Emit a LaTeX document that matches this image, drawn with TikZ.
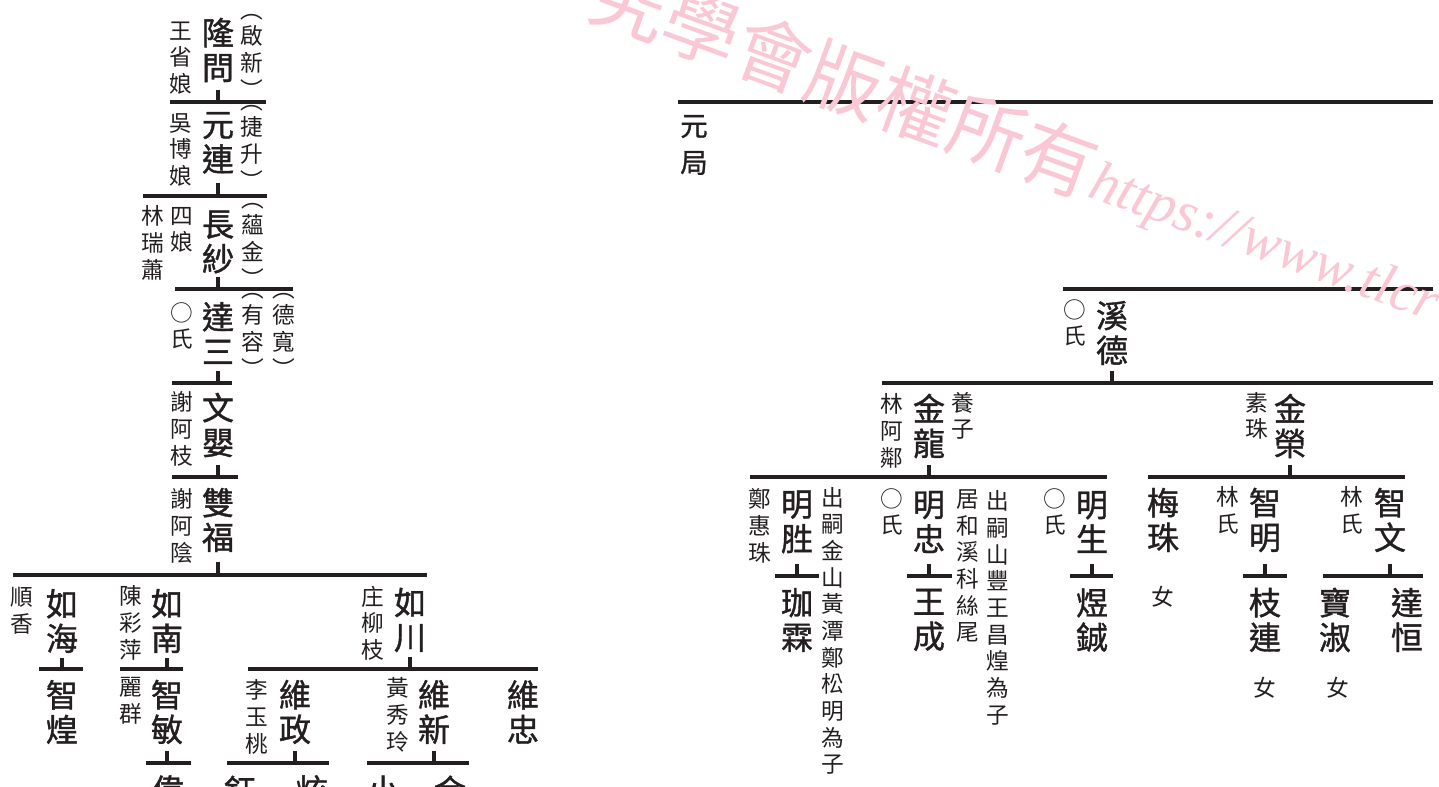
\documentclass[tikz,border=0pt]{standalone}
\usepackage{fontspec}
\setmainfont{Noto Sans CJK TC}
\newfontfamily\namefont{Noto Sans CJK TC}[FakeBold=1.2]
\newfontfamily\urlfont{Liberation Serif}
\definecolor{ink}{RGB}{35,31,32}
\definecolor{wm}{RGB}{250,200,212}
\begin{document}
\begin{tikzpicture}[x=0.75pt,y=-0.75pt,
  nm/.style={font=\namefont\fontsize{24}{26}\selectfont, align=center, inner sep=0pt, text=ink},
  sm/.style={font=\fontsize{17}{20}\selectfont, align=center, inner sep=0pt, text=ink},
  md/.style={font=\namefont\fontsize{20.5}{27.5}\selectfont, align=center, inner sep=0pt, text=ink},
  bar/.style={line width=3pt, draw=ink},
]
\useasboundingbox (0,0) rectangle (1439,787);
\clip (0,0) rectangle (1439,787);

% ---------------- left tree ----------------
\node[nm] (n1) at (218,50) {隆\\問};
\node[sm] (s1) at (181,58) {王\\省\\娘};
\node[sm] (c1) at (252,56) {︵\\啟\\新\\︶};
\coordinate (b1a) at (170,102); \coordinate (b1b) at (266,102);
\draw[bar] (b1a) -- (b1b);
\draw[bar] (n1) ++(0,40) -- (n1 |- b1a);

\node[nm] (n2) at (218,143) {元\\連};
\node[sm] (s2) at (181,150) {吳\\博\\娘};
\node[sm] (c2) at (252,147) {︵\\捷\\升\\︶};
\coordinate (b2a) at (143,196); \coordinate (b2b) at (267,196);
\draw[bar] (b2a) -- (b2b);
\draw[bar] (n2) ++(0,40) -- (n2 |- b2a);

\node[nm] (n3) at (218,242) {長\\紗};
\node[sm] (s3a) at (182,230) {四\\娘};
\node[sm] (s3b) at (153,243) {林\\瑞\\蕭};
\node[sm] (c3) at (253,245) {︵\\蘊\\金\\︶};
\coordinate (b3a) at (175,289); \coordinate (b3b) at (293,289);
\draw[bar] (b3a) -- (b3b);
\draw[bar] (n3) ++(0,35) -- (n3 |- b3a);

\node[nm] (n4) at (218,333) {達\\三};
\node[sm] (s4) at (182,326) {○\\氏};
\node[sm] (c4a) at (253,335) {︵\\有\\容\\︶};
\node[sm] (c4b) at (284,335) {︵\\德\\寬\\︶};
\coordinate (b4a) at (172,383); \coordinate (b4b) at (232,383);
\draw[bar] (b4a) -- (b4b);
\draw[bar] (n4) ++(0,38) -- (n4 |- b4a);

\node[nm] (n5) at (218,425) {文\\嬰};
\node[sm] (s5) at (182,429) {謝\\阿\\枝};
\coordinate (b5a) at (172,477); \coordinate (b5b) at (238,477);
\draw[bar] (b5a) -- (b5b);
\draw[bar] (n5) ++(0,40) -- (n5 |- b5a);

\node[nm] (n6) at (218,520) {雙\\福};
\node[sm] (s6) at (182,526) {謝\\阿\\陰};
\coordinate (b6a) at (13,575); \coordinate (b6b) at (427,575);
\draw[bar] (b6a) -- (b6b);
\draw[bar] (n6) ++(0,42) -- (n6 |- b6a);

\node[nm] (n7) at (62,621) {如\\海};
\node[sm] (s7) at (22,611) {順\\香};
\node[nm] (n8) at (167,621) {如\\南};
\node[sm] (s8) at (131,623) {陳\\彩\\萍};
\node[nm] (n9) at (410,620) {如\\川};
\node[sm] (s9) at (373,623) {庄\\柳\\枝};

\coordinate (b7a) at (39,669); \coordinate (b7b) at (83,669);
\draw[bar] (b7a) -- (b7b);
\draw[bar] (n7) ++(0,37) -- (n7 |- b7a);
\node[nm] (n10) at (62,712) {智\\煌};

\coordinate (b8a) at (120,669); \coordinate (b8b) at (183,669);
\draw[bar] (b8a) -- (b8b);
\draw[bar] (n8) ++(0,37) -- (n8 |- b8a);
\node[nm] (n11) at (167,712) {智\\敏};
\node[sm] (s11) at (131,701) {麗\\群};

\coordinate (b9a) at (248,669); \coordinate (b9b) at (538,669);
\draw[bar] (b9a) -- (b9b);
\draw[bar] (n9) ++(0,37) -- (n9 |- b9a);
\node[nm] (n12) at (295,712) {維\\政};
\node[sm] (s12) at (257,717) {李\\玉\\桃};
\node[nm] (n13) at (434,712) {維\\新};
\node[sm] (s13) at (398,715) {黃\\秀\\玲};
\node[nm] (n14) at (523,712) {維\\忠};

\coordinate (b10a) at (146,763); \coordinate (b10b) at (191,763);
\draw[bar] (b10a) -- (b10b);
\draw[bar] (n11) ++(0,39) -- (n11 |- b10a);
\node[nm] (n15) at (168,790) {偉};

\coordinate (b11a) at (227,763); \coordinate (b11b) at (329,763);
\draw[bar] (b11a) -- (b11b);
\draw[bar] (n12) ++(0,39) -- (n12 |- b11a);
\node[nm] (n16) at (240,790) {鈺};
\node[nm] (n17) at (312,790) {炫};

\coordinate (b12a) at (367,763); \coordinate (b12b) at (469,763);
\draw[bar] (b12a) -- (b12b);
\draw[bar] (n13) ++(0,39) -- (n13 |- b12a);
\node[nm] (n18) at (383,790) {小};
\node[nm] (n19) at (450,790) {金};

% ---------------- right tree ----------------
\coordinate (r0a) at (678,102); \coordinate (r0b) at (1433,102);
\draw[bar] (r0a) -- (r0b);
\node[md] (r0) at (694,145) {元\\局};

\coordinate (r1a) at (1063,289); \coordinate (r1b) at (1433,289);
\draw[bar] (r1a) -- (r1b);
\node[nm] (r1) at (1112,333) {溪\\德};
\node[sm] (rs1) at (1075,323) {○\\氏};

\coordinate (r2a) at (882,383); \coordinate (r2b) at (1433,383);
\draw[bar] (r2a) -- (r2b);
\draw[bar] (r1) ++(0,38) -- (r1 |- r2a);
\node[nm] (r2) at (929,426) {金\\龍};
\node[sm] (rs2) at (892,431) {林\\阿\\鄰};
\node[sm] (ra2) at (963,416) {養\\子};
\node[nm] (r3) at (1290,426) {金\\榮};
\node[sm] (rs3) at (1257,416) {素\\珠};

\coordinate (r3a) at (750,477); \coordinate (r3b) at (1107,477);
\draw[bar] (r3a) -- (r3b);
\draw[bar] (r2) ++(0,39) -- (r2 |- r3a);
\coordinate (r4a) at (1148,477); \coordinate (r4b) at (1405,477);
\draw[bar] (r4a) -- (r4b);
\draw[bar] (r3) ++(0,39) -- (r3 |- r4a);

\node[nm] (r4) at (797,522) {明\\胜};
\node[sm] (rs4) at (760,526) {鄭\\惠\\珠};
\node[sm] (ra4) at (833,631) {出\\嗣\\金\\山\\黃\\潭\\鄭\\松\\明\\為\\子};
\node[nm] (r5) at (929,522) {明\\忠};
\node[sm] (rs5) at (892,512) {○\\氏};
\node[sm] (ra5a) at (968,566) {居\\和\\溪\\科\\絲\\尾};
\node[sm] (ra5b) at (998,608) {出\\嗣\\山\\豐\\王\\昌\\煌\\為\\子};
\node[nm] (r6) at (1092,522) {明\\生};
\node[sm] (rs6) at (1055,512) {○\\氏};
\node[nm] (r7) at (1163,520) {梅\\珠};
\node[sm] (r7f) at (1163,597) {女};
\node[nm] (r8) at (1265,520) {智\\明};
\node[sm] (rs8) at (1228,510) {林\\氏};
\node[nm] (r9) at (1390,520) {智\\文};
\node[sm] (rs9) at (1352,510) {林\\氏};

\coordinate (r5a) at (775,576); \coordinate (r5b) at (819,576);
\draw[bar] (r5a) -- (r5b);
\draw[bar] (r4) ++(0,42) -- (r4 |- r5a);
\node[nm] (r10) at (797,620) {珈\\霖};

\coordinate (r6a) at (907,576); \coordinate (r6b) at (952,576);
\draw[bar] (r6a) -- (r6b);
\draw[bar] (r5) ++(0,42) -- (r5 |- r6a);
\node[nm] (r11) at (929,620) {王\\成};

\coordinate (r7a) at (1070,576); \coordinate (r7b) at (1113,576);
\draw[bar] (r7a) -- (r7b);
\draw[bar] (r6) ++(0,42) -- (r6 |- r7a);
\node[nm] (r12) at (1092,620) {煜\\鋮};

\coordinate (r8a) at (1243,576); \coordinate (r8b) at (1287,576);
\draw[bar] (r8a) -- (r8b);
\draw[bar] (r8) ++(0,44) -- (r8 |- r8a);
\node[nm] (r13) at (1265,620) {枝\\連};
\node[sm] (r13f) at (1265,688) {女};

\coordinate (r9a) at (1323,576); \coordinate (r9b) at (1423,576);
\draw[bar] (r9a) -- (r9b);
\draw[bar] (r9) ++(0,44) -- (r9 |- r9a);
\node[nm] (r14) at (1335,620) {寶\\淑};
\node[sm] (r14f) at (1338,688) {女};
\node[nm] (r15) at (1407,620) {達\\恒};

% ---------------- watermark ----------------
\node[rotate=-20, inner sep=0pt, text=wm, font=\fontsize{57}{57}\selectfont] (w1) at (845,80) {究學會版權所有};
\node[rotate=-20, anchor=base west, inner sep=0pt, text=wm, font=\urlfont\itshape\fontsize{43}{43}\selectfont] (w2) at (1086,196) {https://www.tlcr};
\end{tikzpicture}
\end{document}
